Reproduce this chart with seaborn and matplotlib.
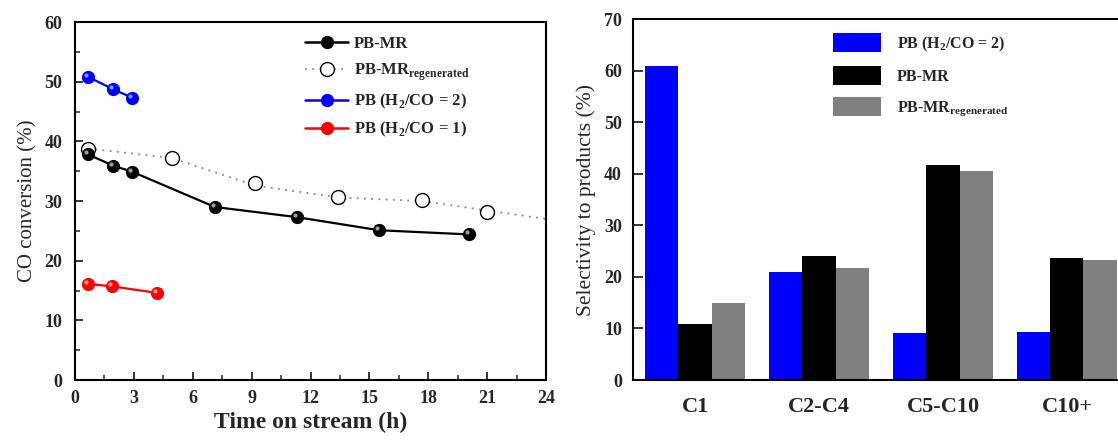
import numpy as np
import pandas as pd
import matplotlib
matplotlib.use("Agg")
import matplotlib.pyplot as plt
import matplotlib.transforms as mtransforms
from matplotlib.lines import Line2D
from matplotlib.ticker import MultipleLocator
import seaborn as sns

# Dados (esquerda: conversão de CO)
pbmr_t = [0.67, 1.96, 2.92, 7.12, 11.29, 15.5, 20.06]
pbmr_conv = [37.8, 35.9, 34.9, 29.0, 27.3, 25.1, 24.4]
regen_t = [0.67, 4.94, 9.17, 13.42, 17.68, 21.0]
regen_conv = [38.8, 37.2, 33.0, 30.7, 30.1, 28.2]
regen_line_t = [0.67, 4.94, 9.17, 13.42, 17.68, 21.0, 24.0]
regen_line_conv = [38.8, 37.2, 32.6, 30.6, 30.0, 28.4, 27.0]
h2co2_t = [0.67, 1.96, 2.92]
h2co2_conv = [50.8, 48.7, 47.3]
h2co1_t = [0.67, 1.87, 4.18]
h2co1_conv = [16.1, 15.7, 14.6]

# Dados (direita: seletividade)
products = ["C1", "C2-C4", "C5-C10", "C10+"]
sel_pb2 = [60.8, 21.0, 9.2, 9.4]
sel_pbmr = [10.9, 24.1, 41.7, 23.7]
sel_regen = [15.0, 21.8, 40.5, 23.3]

lab_pbmr = "PB-MR"
lab_regen = r"PB-MR$_{\mathregular{regenerated}}$"
lab_pb2 = r"PB (H$_{\mathregular{2}}$/CO = 2)"
lab_pb1 = r"PB (H$_{\mathregular{2}}$/CO = 1)"

sns.set_style("white")
plt.rcParams["font.family"] = ["Liberation Serif", "DejaVu Serif"]
plt.rcParams["mathtext.fontset"] = "custom"
plt.rcParams["mathtext.rm"] = "Liberation Serif:bold"

fig = plt.figure(figsize=(11.18, 4.41), dpi=100)
ax1 = fig.add_axes([0.0671, 0.1383, 0.4213, 0.8118])
ax2 = fig.add_axes([0.5662, 0.1383, 0.4436, 0.8186])


def add_highlight(ax, x, y, color):
    # pequeno brilho para imitar as esferas do original
    tr = mtransforms.offset_copy(ax.transData, fig=fig, x=-1.5, y=1.5, units="points")
    ax.scatter(x, y, s=9, color=color, alpha=0.85, transform=tr, zorder=6, linewidths=0)


# --- Painel esquerdo ---
sns.lineplot(x=regen_line_t, y=regen_line_conv, ax=ax1, color="#888888",
             linestyle=(0, (1, 3)), linewidth=1.3, sort=False, estimator=None)
ax1.plot(regen_t, regen_conv, linestyle="none", marker="o", markersize=10,
         markerfacecolor="white", markeredgecolor="black", markeredgewidth=1.0, zorder=5)

series = [
    (pbmr_t, pbmr_conv, "black", "#bbbbbb"),
    (h2co2_t, h2co2_conv, "#0000ff", "#9db4ff"),
    (h2co1_t, h2co1_conv, "#ff0000", "#ffb0b0"),
]
for t, c, col, hl in series:
    sns.lineplot(x=t, y=c, ax=ax1, color=col, linewidth=1.6, sort=False, estimator=None)
    ax1.plot(t, c, linestyle="none", marker="o", markersize=8.5,
             markerfacecolor=col, markeredgecolor=col, zorder=5)
    add_highlight(ax1, t, c, hl)

ax1.set_xlim(0, 24)
ax1.set_ylim(0, 60)
ax1.xaxis.set_major_locator(MultipleLocator(3))
ax1.xaxis.set_minor_locator(MultipleLocator(1.5))
ax1.yaxis.set_major_locator(MultipleLocator(10))
ax1.yaxis.set_minor_locator(MultipleLocator(5))
ax1.tick_params(which="major", direction="in", length=6, width=1.3, pad=7,
                labelsize=13, left=True, bottom=True)
ax1.tick_params(which="minor", direction="in", length=3.5, width=1.1, left=True, bottom=True)
ax1.tick_params(axis="y", pad=9)
for lbl in ax1.get_xticklabels() + ax1.get_yticklabels():
    lbl.set_fontweight("bold")
for s in ax1.spines.values():
    s.set_linewidth(1.5)
    s.set_color("black")
ax1.set_xlabel("Time on stream (h)", fontsize=17, fontweight="bold", labelpad=4)
ax1.set_ylabel("CO conversion (%)", fontsize=15, labelpad=5)

handles1 = [
    Line2D([], [], color="black", linewidth=1.8, marker="o", markersize=8.5),
    Line2D([], [], color="#888888", linewidth=1.3, linestyle=(0, (1, 3)), marker="o",
           markersize=10, markerfacecolor="white", markeredgecolor="black"),
    Line2D([], [], color="#0000ff", linewidth=1.8, marker="o", markersize=8.5),
    Line2D([], [], color="#ff0000", linewidth=1.8, marker="o", markersize=8.5),
]
ax1.legend(handles1, [lab_pbmr, lab_regen, lab_pb2, lab_pb1], loc="upper left",
           bbox_to_anchor=(0.488, 0.96), frameon=False, borderpad=0, borderaxespad=0,
           handlelength=2.6, handletextpad=0.35, labelspacing=0.55,
           prop={"weight": "bold", "size": 12})

# --- Painel direito ---
df = pd.DataFrame({
    "product": products * 3,
    "value": sel_pb2 + sel_pbmr + sel_regen,
    "series": [lab_pb2] * 4 + [lab_pbmr] * 4 + [lab_regen] * 4,
})
sns.barplot(data=df, x="product", y="value", hue="series", ax=ax2,
            palette=["#0000ff", "#000000", "#808080"], saturation=1, width=0.8,
            linewidth=0, edgecolor="none")
ax2.set_xlim(-0.5, 3.5)
ax2.set_ylim(0, 70)
ax2.yaxis.set_major_locator(MultipleLocator(10))
ax2.tick_params(axis="y", direction="in", length=7, width=1.3, pad=8, labelsize=13, left=True)
ax2.tick_params(axis="x", length=0, pad=12, labelsize=16)
for lbl in ax2.get_yticklabels() + ax2.get_xticklabels():
    lbl.set_fontweight("bold")
for s in ax2.spines.values():
    s.set_linewidth(1.5)
    s.set_color("black")
ax2.set_xlabel("")
ax2.set_ylabel("Selectivity to products (%)", fontsize=15.5, labelpad=6)
ax2.legend(loc="upper left", bbox_to_anchor=(0.403, 0.96), frameon=False,
           borderpad=0, borderaxespad=0, handlelength=3.0, handleheight=1.45,
           handletextpad=1.0, labelspacing=0.75, prop={"weight": "bold", "size": 11.5})

fig.savefig("out.png", dpi=100)
